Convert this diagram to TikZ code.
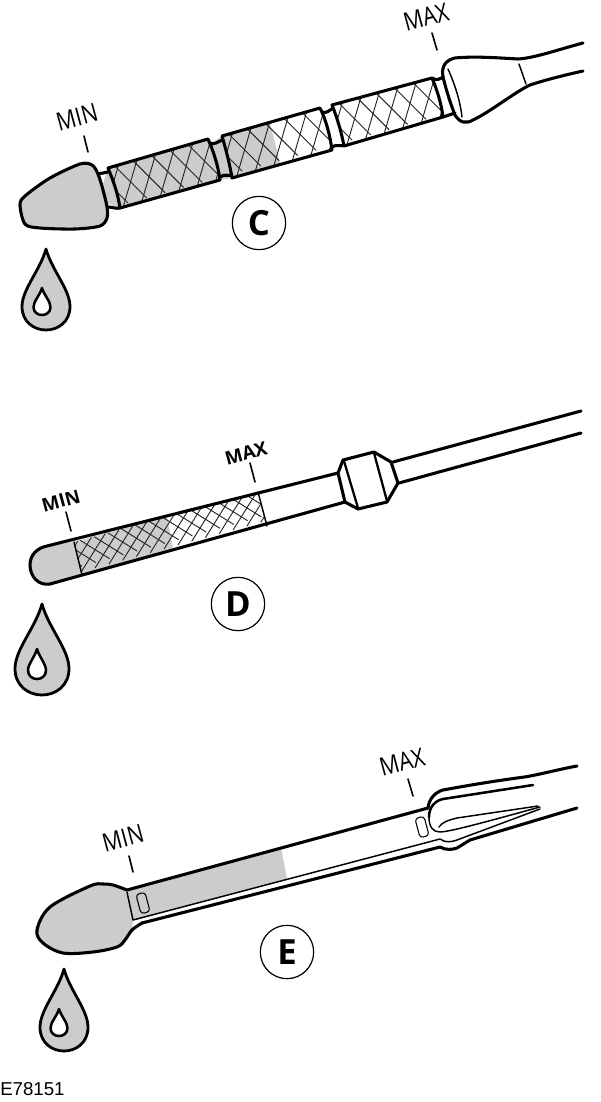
\documentclass[tikz,border=0pt]{standalone}
\usepackage{fontspec}
\setmainfont{Open Sans}
\newfontfamily\codefont{Liberation Sans}
\newfontfamily\levelfont[FakeStretch=0.85]{Open Sans}
\usetikzlibrary{shapes, positioning}

\definecolor{stickgray}{HTML}{CCCCCC}

\tikzset{
  droplet/.pic={
    \path[pic actions] (0,0) .. controls (-0.12,0.26) and (-0.5,0.5) .. (-0.5,0.71)
      .. controls (-0.5,0.9) and (-0.25,1) .. (0,1)
      .. controls (0.25,1) and (0.5,0.9) .. (0.5,0.71)
      .. controls (0.5,0.5) and (0.12,0.26) .. cycle;
  }
}

\begin{document}
\begin{tikzpicture}[x=0.75pt, y=-0.75pt, line join=round, line cap=round]

  % Define styles for the different parts
  \tikzstyle{outline} = [draw, line width=2.3pt]
  \tikzstyle{thinline} = [draw, line width=1.1pt]
  \tikzstyle{hatch} = [draw=black!85, line width=0.7pt]
  \tikzstyle{body} = [fill=stickgray, draw=none]
  \tikzstyle{drop} = [draw, fill=stickgray, line width=2.1pt]
  \tikzstyle{dropeye} = [draw, fill=white, line width=1.9pt]
  \tikzstyle{tick} = [draw, line width=1.2pt]
  \tikzstyle{levellabel} = [inner sep=0pt, font=\levelfont\fontsize{19pt}{21pt}\selectfont, rotate=15]
  \tikzstyle{boldlabel} = [inner sep=0pt, font=\fontsize{14pt}{16pt}\selectfont\bfseries, rotate=15]
  \tikzstyle{letter} = [draw, circle, minimum size=40pt, inner sep=0pt, line width=0.9pt, font=\fontsize{26pt}{28pt}\selectfont\bfseries]
  \tikzstyle{slot} = [draw, rectangle, rounded corners=2.5pt, minimum width=7pt, minimum height=15pt, inner sep=0pt, line width=0.8pt, rotate=15]

  \useasboundingbox (0,0) rectangle (600,1102);

  % Dipstick C
  \path[body] (108,168) -- (208,139) -- (212,143) -- (222,136) -- (270,123) -- (280,163) -- (232,178) -- (220,180) -- (120,208) -- (98,200) -- cycle;
  \begin{scope}
    \clip (108,168) .. controls (115,185) and (118,195) .. (120,208) -- (220,180) .. controls (218,165) and (213,150) .. (208,139) -- cycle;
    \foreach \i in {-2,...,8} {
      \draw[hatch] ({120+\i*18.5},{160-\i*5.2}) -- ++(-17,58);
      \draw[hatch] ({80+\i*18.5},{155-\i*5.2}) -- ++(48,48);
    }
  \end{scope}
  \begin{scope}
    \clip (222,136) .. controls (226,150) and (230,165) .. (232,178) -- (332,150) .. controls (330,135) and (326,120) .. (320,108) -- cycle;
    \foreach \i in {-2,...,8} {
      \draw[hatch] ({234+\i*18.5},{128-\i*5.2}) -- ++(-17,58);
      \draw[hatch] ({194+\i*18.5},{123-\i*5.2}) -- ++(48,48);
    }
  \end{scope}
  \begin{scope}
    \clip (332,105) .. controls (338,120) and (342,135) .. (344,146) -- (443,117) .. controls (441,102) and (437,90) .. (432,78) -- cycle;
    \foreach \i in {-2,...,8} {
      \draw[hatch] ({344+\i*18.5},{97-\i*5.2}) -- ++(-17,58);
      \draw[hatch] ({304+\i*18.5},{92-\i*5.2}) -- ++(48,48);
    }
  \end{scope}
  \draw[outline, fill=stickgray] plot[smooth cycle, tension=0.5] coordinates {(20,205) (25,196) (50,178) (80,164) (92,165) (98,174) (103,190) (107,207) (107,218) (100,226) (75,229) (40,228) (25,224)};
  \draw[outline] (98,174) -- (108,172);
  \draw[outline] (108,207) .. controls (112,207) and (116,209) .. (120,208);
  \draw[outline] (108,168) .. controls (115,185) and (118,195) .. (120,208) -- (220,180) .. controls (218,165) and (213,150) .. (208,139) -- cycle;
  \draw[outline] (210,143) .. controls (214,145) and (218,142) .. (222,140);
  \draw[outline] (220,177) .. controls (224,174) and (228,176) .. (232,175);
  \draw[outline] (222,136) .. controls (226,150) and (230,165) .. (232,178) -- (332,150) .. controls (330,135) and (326,120) .. (320,108) -- cycle;
  \draw[outline] (322,112) .. controls (326,114) and (330,110) .. (333,108);
  \draw[outline] (332,147) .. controls (336,144) and (341,147) .. (345,145);
  \draw[outline] (332,105) .. controls (338,120) and (342,135) .. (344,146) -- (443,117) .. controls (441,102) and (437,90) .. (432,78) -- cycle;
  \draw[outline] (432,78) .. controls (436,81) and (440,79) .. (443,77);
  \draw[outline] (443,117) -- (455,113);
  \draw[outline] (443,77) .. controls (441,66) and (446,60) .. (455,58) .. controls (475,56) and (500,58) .. (518,59) .. controls (535,58) and (560,49) .. (583,43);
  \draw[outline] (583,71) .. controls (565,75) and (545,80) .. (530,85) .. controls (515,92) and (490,112) .. (473,120) .. controls (466,124) and (460,123) .. (455,115) .. controls (449,100) and (445,85) .. (443,77);
  \draw[thinline] (448,69) .. controls (455,85) and (460,100) .. (462,117);
  \draw[thinline] (519,64) -- (526,84);

  % Dipstick D
  \path[body] (74,542) -- (167,517) -- (173,548) -- (82,575) -- (50,584) .. controls (38,586) and (30,576) .. (30,565) .. controls (30,555) and (37,548) .. (47,546) -- cycle;
  \begin{scope}
    \clip (74,542) -- (258,492) -- (267,526) -- (82,575) -- cycle;
    \foreach \i in {-4,...,24} {
      \draw[hatch] ({70+\i*13.8},{535-\i*3.8}) -- ++(-30,48);
      \draw[hatch] ({20+\i*13.8},{540-\i*3.8}) -- ++(48,30);
    }
  \end{scope}
  \draw[outline] (338,473) -- (47,546) .. controls (37,548) and (30,555) .. (30,565) .. controls (30,576) and (38,586) .. (50,584) -- (345,502);
  \draw[thinline] (74,542) -- (82,575);
  \draw[thinline] (258,492) -- (267,526);
  \draw[outline] (338,473) -- (343,460) -- (374,452) -- (391,462) -- (398,483) -- (387,502) -- (358,509) -- (345,502) -- cycle;
  \draw[outline, line width=1.7pt] (344,461) -- (358,508);
  \draw[outline, line width=1.7pt] (374,453) -- (387,501);
  \draw[outline] (393,462) -- (581,411);
  \draw[outline] (399,483) -- (581,433);

  % Dipstick E
  \path[body] (127,890) -- (281,848) -- (287,879) -- (133,920) -- cycle;
  \path[body] plot[smooth, tension=0.55] coordinates {(127,890) (113,885) (103,884) (90,886) (50,907) (37,930) (43,943) (63,953) (93,952) (117,947) (125,940) (132,930)} -- (133,920) -- cycle;
  \draw[outline] plot[smooth, tension=0.55] coordinates {(127,890) (113,885) (103,884) (90,886) (50,907) (37,930) (43,943) (63,953) (93,952) (117,947) (125,940) (132,930) (142,923)};
  \draw[outline] (127,890) -- (428,808);
  \draw[outline] (142,923) -- (440,847) .. controls (445,850) and (452,850) .. (457,848) -- (470,840) -- (577,808);
  \draw[thinline] (127,892) -- (133,920) -- (440,839) .. controls (445,843) and (452,842) .. (457,840) -- (540,809);
  \draw[outline] (428,808) .. controls (429,798) and (436,792) .. (443,790) .. controls (470,785) and (495,781) .. (517,778) .. controls (535,776) and (555,770) .. (577,766);
  \draw[outline, line width=1.9pt] (533,785) -- (443,799) .. controls (434,801) and (429,808) .. (429,817);
  \draw[thinline] (429,817) .. controls (429,827) and (433,832) .. (440,832) .. controls (450,832) and (500,818) .. (540,807);
  \draw[thinline] (538,806) -- (457,818) .. controls (449,820) and (442,822) .. (439,827);
  \node (slot_min) [slot] at (143,903) {};
  \node (slot_max) [slot] at (422,827) {};

  % Drops
  \pic[drop, xscale=48, yscale=81] at (46,249) {droplet};
  \pic[dropeye, xscale=17, yscale=27] at (42,288) {droplet};
  \pic[drop, xscale=54, yscale=91] at (42,604) {droplet};
  \pic[dropeye, xscale=18, yscale=30] at (37,649) {droplet};
  \pic[drop, xscale=48, yscale=82] at (64,969) {droplet};
  \pic[dropeye, xscale=17, yscale=27] at (59,1009) {droplet};

  % Level marks
  \coordinate (c_min_top) at (84,136);
  \coordinate (c_min_end) at (88,152);
  \coordinate (c_max_top) at (432,33);
  \coordinate (c_max_end) at (437,50);
  \coordinate (d_min_top) at (66,512);
  \coordinate (d_min_end) at (71,531);
  \coordinate (d_max_top) at (250,463);
  \coordinate (d_max_end) at (255,482);
  \coordinate (e_min_top) at (129,856);
  \coordinate (e_min_end) at (133,872);
  \coordinate (e_max_top) at (408,779);
  \coordinate (e_max_end) at (413,796);
  \node (c_min) [levellabel] at (77,117) {MIN};
  \node (c_max) [levellabel] at (426,17) {MAX};
  \node (d_min) [boldlabel] at (61,501) {MIN};
  \node (d_max) [boldlabel] at (246,453) {MAX};
  \node (e_min) [levellabel] at (123,838) {MIN};
  \node (e_max) [levellabel] at (402,762) {MAX};
  \foreach \m in {c_min, c_max, d_min, d_max, e_min, e_max}
    \draw[tick] (\m_top) -- (\m_end);

  % Letters
  \node (letter_c) [letter] at (259,223) {C};
  \node (letter_d) [letter] at (238,604) {D};
  \node (letter_e) [letter] at (287,952) {E};

  \node (code) [anchor=west, inner sep=0pt, font=\codefont\fontsize{14pt}{16pt}\selectfont] at (0,1089) {E78151};

\end{tikzpicture}
\end{document}
